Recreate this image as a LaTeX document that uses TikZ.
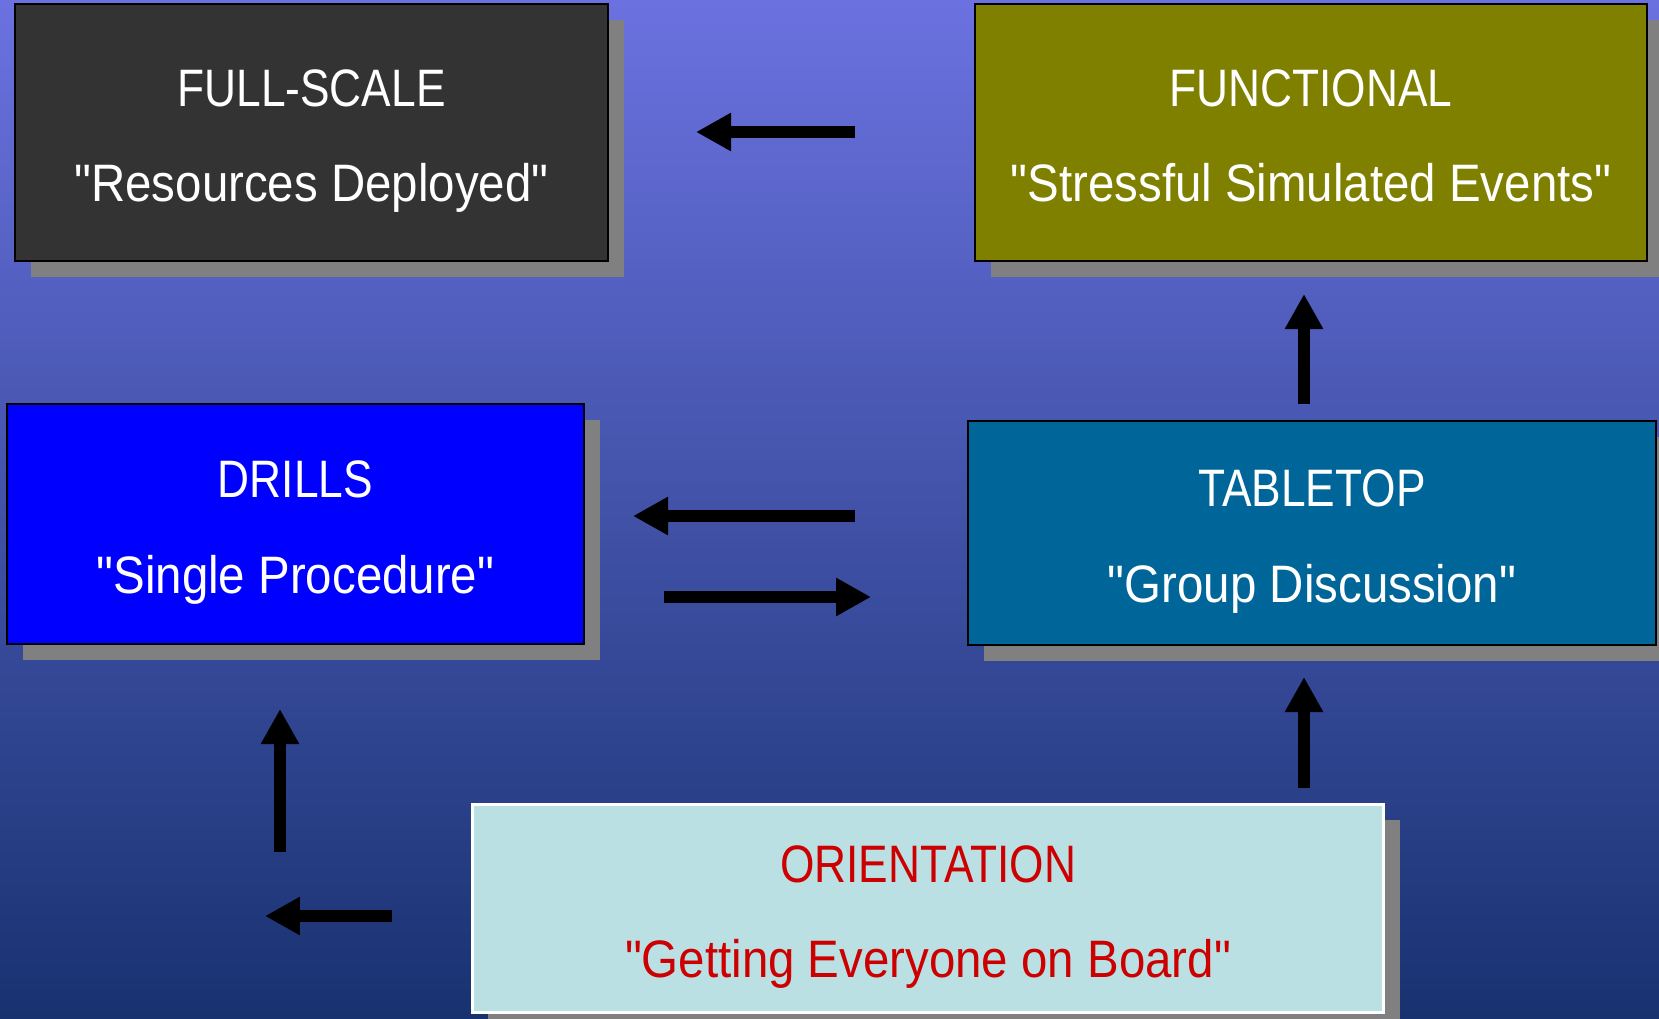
\documentclass[tikz,border=0pt]{standalone}
\usepackage{fontspec}
\setmainfont[FakeStretch=0.84,Ligatures=TeXOff]{Liberation Sans}
\newfontfamily\quotefont[FakeStretch=0.9,Ligatures=TeXOff]{Liberation Sans}
\usetikzlibrary{arrows.meta,shadows}
\definecolor{bgtop}{RGB}{107,114,224}
\definecolor{bgmid}{RGB}{66,86,172}
\definecolor{bgbot}{RGB}{24,50,112}
\definecolor{shadowgray}{RGB}{128,128,128}
\definecolor{fullcol}{RGB}{51,51,51}
\definecolor{funccol}{RGB}{128,128,0}
\definecolor{drillcol}{RGB}{0,0,255}
\definecolor{tablecol}{RGB}{0,102,153}
\definecolor{orientcol}{RGB}{187,224,227}
\definecolor{orienttext}{RGB}{204,0,0}
\newcommand{\stagetext}[2]{#1\\{\quotefont"#2"}}
\tikzset{
  stage/.style={draw=black, line width=0.05cm, text=white, align=center, inner sep=0pt,
    text height=2.97cm, text depth=0.2cm, font=\fontsize{30}{54.3}\selectfont,
    general shadow={fill=shadowgray, shadow xshift=0.32cm, shadow yshift=-0.32cm}},
  flow/.style={line width=0.225cm, -{Triangle[length=0.7cm,width=0.72cm]}}
}
\begin{document}
\begin{tikzpicture}[x=0.02cm, y=-0.02cm]
        \useasboundingbox (0, 0) rectangle (1659, 1018);
        \clip (0, 0) rectangle (1659, 1018);
        \shade[top color=bgtop, middle color=bgmid, bottom color=bgbot] (0, 0) rectangle (1659, 1018);
        % stages
        \node[stage, fill=fullcol, minimum width=11.86cm, minimum height=5.14cm] (full) at (311.5, 132.5) {\stagetext{FULL-SCALE}{Resources Deployed}};
        \node[stage, fill=funccol, minimum width=13.44cm, minimum height=5.14cm] (func) at (1311, 132.5) {\stagetext{FUNCTIONAL}{Stressful Simulated Events}};
        \node[stage, fill=drillcol, minimum width=11.54cm, minimum height=4.8cm] (drill) at (295.5, 524) {\stagetext{DRILLS}{Single Procedure}};
        \node[stage, fill=tablecol, minimum width=13.76cm, minimum height=4.48cm] (table) at (1312, 533) {\stagetext{TABLETOP}{Group Discussion}};
        \node[stage, fill=orientcol, draw=white, line width=0.06cm, text=orienttext, minimum width=18.24cm, minimum height=4.18cm] (orient) at (928, 908.5) {\stagetext{ORIENTATION}{Getting Everyone on Board}};
        % arrow ends
        \coordinate (fa) at (855, 132);
        \coordinate (fb) at (696, 132);
        \coordinate (da) at (855, 516);
        \coordinate (db) at (633, 516);
        \coordinate (ta) at (664, 597);
        \coordinate (tb) at (871, 597);
        \coordinate (ua) at (1304, 404);
        \coordinate (ub) at (1304, 294);
        \coordinate (oa) at (1304, 788);
        \coordinate (ob) at (1304, 677);
        \coordinate (la) at (280, 852);
        \coordinate (lb) at (280, 709);
        \coordinate (ra) at (392, 916);
        \coordinate (rb) at (265, 916);
        \draw[flow] (fa) -- (fb);
        \draw[flow] (da) -- (db);
        \draw[flow] (ta) -- (tb);
        \draw[flow] (ua) -- (ub);
        \draw[flow] (oa) -- (ob);
        \draw[flow] (la) -- (lb);
        \draw[flow] (ra) -- (rb);
\end{tikzpicture}
\end{document}
